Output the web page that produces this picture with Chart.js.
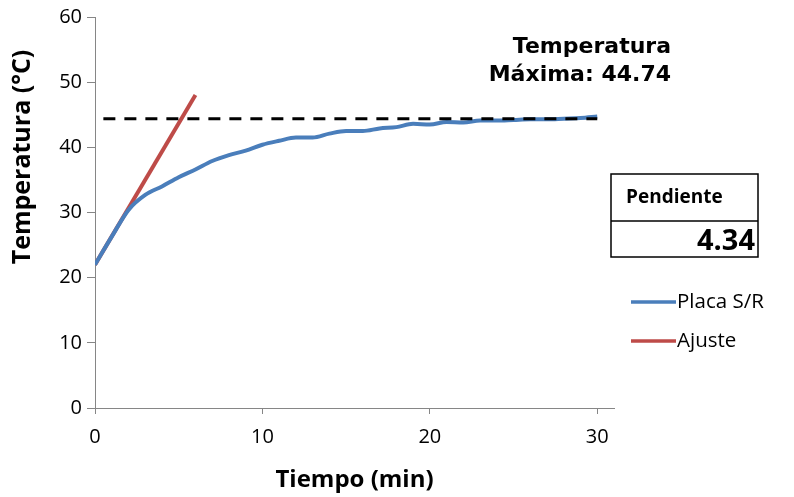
<!DOCTYPE html>
<html>
<head>
<meta charset="utf-8">
<script src="https://cdn.jsdelivr.net/npm/chart.js@4"></script>
<style>
  html, body { margin: 0; padding: 0; background: #fff; }
  #wrap { width: 794px; height: 497px; }
</style>
</head>
<body>
<div id="wrap"><canvas id="Grafica" width="794" height="497"></canvas></div>
<script>
// datos
const minutos = [0,1,2,3,4,5,6,7,8,9,10,11,12,13,14,15,16,17,18,19,20,21,22,23,24,25,26,27,28,29,30];
const placaSR = [22.0,26.3,30.4,32.7,34.0,35.4,36.6,37.9,38.8,39.5,40.4,41.0,41.5,41.5,42.1,42.5,42.5,42.9,43.1,43.6,43.5,43.9,43.8,44.1,44.1,44.2,44.3,44.3,44.4,44.5,44.74];
const ajusteX = [0, 6];
const ajusteY = [22.0, 48.04];
const maximaX = [0.5, 30];
const maximaY = [44.4, 44.4];
const xTicks = [0, 10, 20, 30];
const pendiente = '4.34';
const tempMaxima = '44.74';

function toPoints(xs, ys){
    let pts = [];
    for (let i=0; i<xs.length; i++){ pts.push({'x':xs[i],'y':ys[i]}); }
    return pts;
}

const fuente = "'Open Sans', 'Noto Sans', sans-serif";

const extras = {
    id: 'extras',
    afterDraw(chart){
        const ctx = chart.ctx;
        ctx.save();
        ctx.fillStyle = '#000';
        // titulo eje y
        ctx.save();
        ctx.translate(23, 157);
        ctx.rotate(-Math.PI/2);
        ctx.font = "bold 25px " + fuente;
        ctx.textAlign = 'center';
        ctx.textBaseline = 'middle';
        ctx.fillText('Temperatura (°C)', 0, 0);
        ctx.restore();
        // texto de temperatura maxima
        ctx.font = "bold 22px 'DejaVu Sans'";
        ctx.textAlign = 'right';
        ctx.textBaseline = 'middle';
        ctx.fillText('Temperatura', 671, 47);
        ctx.fillText('Máxima: ' + tempMaxima, 671, 75);
        // cuadro de pendiente
        ctx.strokeStyle = '#000';
        ctx.lineWidth = 1.5;
        ctx.strokeRect(611, 174, 147, 83);
        ctx.beginPath();
        ctx.moveTo(611, 221);
        ctx.lineTo(758, 221);
        ctx.stroke();
        ctx.textAlign = 'left';
        ctx.font = "bold 19px " + fuente;
        ctx.fillText('Pendiente', 626, 198);
        ctx.textAlign = 'right';
        ctx.font = "bold 29px " + fuente;
        ctx.fillText(pendiente, 755, 242);
        // leyenda
        const ds = chart.data.datasets.filter(d => d.enLeyenda);
        ds.forEach((d, i) => {
            let y = 302 + i*39;
            ctx.strokeStyle = d.borderColor;
            ctx.lineWidth = 3.5;
            ctx.beginPath();
            ctx.moveTo(631, y);
            ctx.lineTo(676, y);
            ctx.stroke();
            ctx.fillStyle = '#000';
            ctx.textAlign = 'left';
            ctx.font = "20.5px " + fuente;
            ctx.fillText(d.label, 677, y);
        });
        ctx.restore();
    }
};

const config = {
    'type': 'line',
    'data': {
        'datasets': [
            {
                'label': 'Máxima',
                'data': toPoints(maximaX, maximaY),
                'borderColor': '#000000',
                'borderWidth': 3,
                'borderDash': [12, 9],
                'pointRadius': 0,
                'enLeyenda': false
            },
            {
                'label': 'Placa S/R',
                'data': toPoints(minutos, placaSR),
                'borderColor': '#4a7ebb',
                'borderWidth': 4,
                'pointRadius': 0,
                'tension': 0.4,
                'cubicInterpolationMode': 'monotone',
                'enLeyenda': true
            },
            {
                'label': 'Ajuste',
                'data': toPoints(ajusteX, ajusteY),
                'borderColor': '#be4b48',
                'borderWidth': 4,
                'pointRadius': 0,
                'enLeyenda': true
            }
        ]
    },
    'options': {
        'responsive': false,
        'animation': false,
        'layout': {'padding': {'left': 0, 'right': 180, 'top': 17, 'bottom': 0}},
        'plugins': {'legend': {'display': false}, 'tooltip': {'enabled': false}},
        'scales': {
            'x': {
                'type': 'linear',
                'min': 0,
                'max': 31,
                'afterBuildTicks': s => { s.ticks = xTicks.map(v => ({'value': v})); },
                'afterFit': s => { s.height = 89; },
                'grid': {'drawOnChartArea': false, 'color': '#868686', 'tickLength': 6},
                'border': {'color': '#868686', 'width': 1},
                'ticks': {'color': '#000', 'font': {'family': fuente, 'size': 20}, 'padding': 11, 'maxRotation': 0},
                'title': {'display': true, 'text': 'Tiempo (min)', 'color': '#000',
                          'font': {'family': fuente, 'size': 24, 'weight': 'bold'}, 'padding': {'top': 0, 'bottom': 2}}
            },
            'y': {
                'min': 0,
                'max': 60,
                'afterFit': s => { s.width = 95; },
                'grid': {'drawOnChartArea': false, 'color': '#868686', 'tickLength': 8},
                'border': {'color': '#868686', 'width': 1},
                'ticks': {'stepSize': 10, 'color': '#000', 'font': {'family': fuente, 'size': 20}, 'padding': 5},
                'title': {'display': false}
            }
        }
    },
    'plugins': [extras]
};

new Chart(document.getElementById('Grafica').getContext('2d'), config);
</script>
</body>
</html>
